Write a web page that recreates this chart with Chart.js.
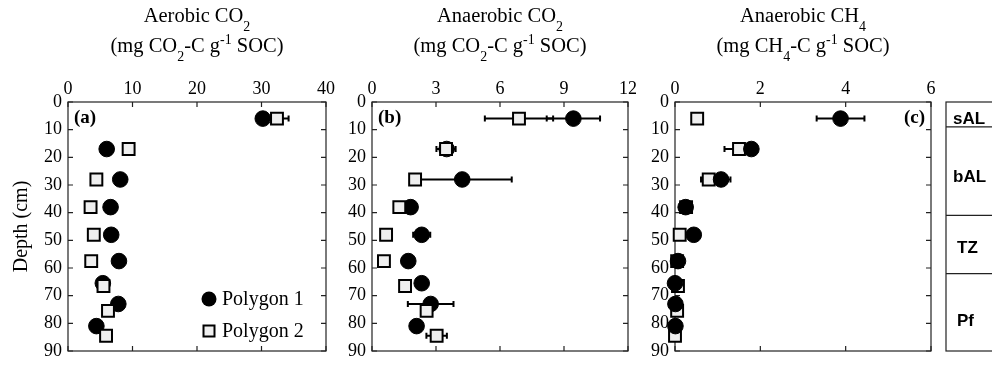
<!DOCTYPE html>
<html><head><meta charset="utf-8">
<script src="https://cdn.jsdelivr.net/npm/chart.js@4"></script>
<style>
html,body{margin:0;padding:0;background:#fff;}
#wrap{position:relative;width:992px;height:373px;overflow:hidden;background:#fff;}
canvas{position:absolute;left:0;top:0;}
</style></head><body>
<div id="wrap">
<canvas id="ca" width="992" height="373"></canvas>
<canvas id="cb" width="992" height="373"></canvas>
<canvas id="cc" width="992" height="373"></canvas>
</div>
<script>
// ---- data ----
const depthP1 = [6, 17, 28, 38, 48, 57.5, 65.5, 73, 81];
const depthP2 = [6, 17, 28, 38, 48, 57.5, 66.5, 75.5, 84.5];

const aerobicP1    = [30.2, 6.0, 8.1, 6.6, 6.7, 7.9, 5.4, 7.8, 4.4];
const aerobicP1Err = [0, 0, 0, 0, 0, 0, 0, 0, 0];
const aerobicP2    = [32.4, 9.4, 4.4, 3.5, 4.0, 3.6, 5.5, 6.2, 5.9];
const aerobicP2Err = [1.8, 0, 0, 0, 0, 0, 0, 0, 0];

const anCO2P1    = [9.44, 3.5, 4.23, 1.81, 2.33, 1.70, 2.33, 2.75, 2.09];
const anCO2P1Err = [1.25, 0.2, 2.32, 0.2, 0.4, 0, 0, 1.07, 0];
const anCO2P2    = [6.89, 3.47, 2.02, 1.28, 0.66, 0.56, 1.55, 2.56, 3.03];
const anCO2P2Err = [1.6, 0.45, 0, 0, 0, 0, 0, 0, 0.48];

const anCH4P1    = [3.88, 1.79, 1.08, 0.25, 0.44, 0.07, 0.0, 0.01, 0.01];
const anCH4P1Err = [0.56, 0, 0.22, 0, 0, 0, 0, 0, 0];
const anCH4P2    = [0.52, 1.50, 0.79, 0.26, 0.11, 0.05, 0.07, 0.05, 0.0];
const anCH4P2Err = [0, 0.34, 0.18, 0, 0, 0, 0, 0, 0];

const ticksA = [0, 10, 20, 30, 40];
const ticksB = [0, 3, 6, 9, 12];
const ticksC = [0, 2, 4, 6];
const depthTicks = [0, 10, 20, 30, 40, 50, 60, 70, 80, 90];

const seriesNames = ['Polygon 1', 'Polygon 2'];
const zoneNames  = ['sAL', 'bAL', 'TZ', 'Pf'];
const zoneBounds = [0, 9, 41, 62, 90];
const zoneLabelDepth = [6, 27, 52.5, 79];

// ---- helpers ----
const SERIF = '"Liberation Serif", "Times New Roman", serif';
const SANS = '"Liberation Sans", Arial, sans-serif';
function pts(xs, ds) { return xs.map((x, i) => ({x: x, y: ds[i]})); }

function drawRich(ctx, segs, cx, y, size) {
  let total = 0;
  segs.forEach(s => {
    const sz = (s.sub || s.sup) ? size * 0.68 : size;
    ctx.font = sz + 'px ' + SERIF;
    s.w = ctx.measureText(s.t).width; total += s.w;
  });
  let x = cx - total / 2;
  ctx.textAlign = 'left'; ctx.textBaseline = 'alphabetic'; ctx.fillStyle = '#000';
  segs.forEach(s => {
    const sz = (s.sub || s.sup) ? size * 0.68 : size;
    ctx.font = sz + 'px ' + SERIF;
    const dy = s.sub ? size * 0.45 : (s.sup ? -size * 0.38 : 0);
    ctx.fillText(s.t, x, y + dy); x += s.w;
  });
}

const panelPlugin = {
  id: 'panel',
  beforeDatasetsDraw(chart, args, opts) {
    const {ctx, chartArea: a, scales: {x, y}} = chart;
    ctx.save();
    ctx.strokeStyle = '#222'; ctx.lineWidth = 1.2;
    ctx.strokeRect(a.left, a.top, a.right - a.left, a.bottom - a.top);
    const tl = 5;
    ctx.beginPath();
    x.ticks.forEach(t => {
      const px = x.getPixelForValue(t.value);
      ctx.moveTo(px, a.top); ctx.lineTo(px, a.top + tl);
      ctx.moveTo(px, a.bottom); ctx.lineTo(px, a.bottom - tl);
    });
    y.ticks.forEach(t => {
      const py = y.getPixelForValue(t.value);
      ctx.moveTo(a.left, py); ctx.lineTo(a.left + tl, py);
      ctx.moveTo(a.right, py); ctx.lineTo(a.right - tl, py);
    });
    ctx.stroke();
    ctx.strokeStyle = '#000'; ctx.lineWidth = 2;
    chart.data.datasets.forEach(ds => {
      (ds.errX || []).forEach((e, i) => {
        if (!e) return;
        const p = ds.data[i];
        const x0 = x.getPixelForValue(p.x - e), x1 = x.getPixelForValue(p.x + e);
        const py = y.getPixelForValue(p.y);
        ctx.beginPath();
        ctx.moveTo(x0, py); ctx.lineTo(x1, py);
        ctx.moveTo(x0, py - 3); ctx.lineTo(x0, py + 3);
        ctx.moveTo(x1, py - 3); ctx.lineTo(x1, py + 3);
        ctx.stroke();
      });
    });
    ctx.restore();
  },
  afterDraw(chart, args, opts) {
    const {ctx, chartArea: a, scales: {y}} = chart;
    ctx.save();
    const cx = (a.left + a.right) / 2;
    drawRich(ctx, opts.line1, cx, a.top - 80, 20.5);
    drawRich(ctx, opts.line2, cx, a.top - 50, 20.5);
    ctx.font = 'bold 19px ' + SERIF; ctx.fillStyle = '#000'; ctx.textBaseline = 'middle';
    if (opts.letterRight) { ctx.textAlign = 'right'; ctx.fillText(opts.letter, a.right - 6, a.top + 16); }
    else { ctx.textAlign = 'left'; ctx.fillText(opts.letter, a.left + 6, a.top + 16); }
    if (opts.yTitle) {
      ctx.save();
      ctx.translate(a.left - 46, (a.top + a.bottom) / 2);
      ctx.rotate(-Math.PI / 2);
      ctx.textAlign = 'center'; ctx.textBaseline = 'middle';
      ctx.font = '20px ' + SERIF;
      ctx.fillText(opts.yTitle, 0, 0);
      ctx.restore();
    }
    if (opts.legend) {
      const ds = chart.data.datasets;
      const lx = a.right - 117;
      const rows = [a.bottom - 52, a.bottom - 20];
      ds.forEach((d, i) => {
        const ly = rows[i];
        ctx.lineWidth = 2; ctx.strokeStyle = '#000';
        if (d.pointStyle === 'circle') {
          ctx.beginPath(); ctx.arc(lx, ly, 7.5, 0, Math.PI * 2);
          ctx.fillStyle = '#000'; ctx.fill();
        } else {
          ctx.fillStyle = d.backgroundColor;
          ctx.fillRect(lx - 5.5, ly - 5.5, 11, 11);
          ctx.strokeRect(lx - 5.5, ly - 5.5, 11, 11);
        }
        ctx.fillStyle = '#000'; ctx.font = '20px ' + SERIF;
        ctx.textAlign = 'left'; ctx.textBaseline = 'middle';
        ctx.fillText(d.label, lx + 13, ly + 1);
      });
    }
    if (opts.zones) {
      const bx = a.right + 15, bw = 100;
      const top = y.getPixelForValue(zoneBounds[0]);
      const bot = y.getPixelForValue(zoneBounds[zoneBounds.length - 1]);
      ctx.strokeStyle = '#222'; ctx.lineWidth = 1.2;
      ctx.strokeRect(bx, top, bw, bot - top);
      ctx.beginPath();
      for (let i = 1; i < zoneBounds.length - 1; i++) {
        const py = y.getPixelForValue(zoneBounds[i]);
        ctx.moveTo(bx, py); ctx.lineTo(bx + bw, py);
      }
      ctx.stroke();
      ctx.font = 'bold 17px ' + SANS; ctx.fillStyle = '#000';
      ctx.textAlign = 'left'; ctx.textBaseline = 'middle';
      zoneNames.forEach((n, i) => {
        const off = n.length > 2 ? 7 : 11;
        ctx.fillText(n, bx + off, y.getPixelForValue(zoneLabelDepth[i]) + 1);
      });
    }
    ctx.restore();
  }
};

const Y_AXIS_W = 60, X_AXIS_H = 30;
function makeChart(id, area, xt, s1, e1, s2, e2, p1Top, popts) {
  const tickFont = {family: SERIF, size: 18};
  return new Chart(document.getElementById(id), {
    type: 'scatter',
    data: {
      datasets: [
        {label: seriesNames[0], data: pts(s1, depthP1), errX: e1, pointStyle: 'circle',
         pointRadius: 7.8, pointHoverRadius: 7.8, backgroundColor: '#000', borderColor: '#000',
         borderWidth: 1, clip: false, order: p1Top ? 0 : 1},
        {label: seriesNames[1], data: pts(s2, depthP2), errX: e2, pointStyle: 'rect',
         pointRadius: 8.4, pointHoverRadius: 8.4, backgroundColor: '#efefef', borderColor: '#000',
         borderWidth: 2, clip: false, order: p1Top ? 1 : 0}
      ]
    },
    options: {
      responsive: false, animation: false, devicePixelRatio: 1,
      layout: {padding: {left: area.left - Y_AXIS_W, right: 992 - area.right,
                         top: area.top - X_AXIS_H, bottom: 373 - area.bottom}},
      plugins: {legend: {display: false}, tooltip: {enabled: false}, panel: popts},
      scales: {
        x: {type: 'linear', position: 'top', min: xt[0], max: xt[xt.length - 1],
            afterBuildTicks(s) { s.ticks = xt.map(v => ({value: v})); },
            ticks: {font: tickFont, color: '#000', padding: 2, maxRotation: 0, autoSkip: false},
            grid: {display: false, drawTicks: false}, border: {display: false},
            afterFit(s) { s.height = X_AXIS_H; }},
        y: {type: 'linear', position: 'left', reverse: true,
            min: depthTicks[0], max: depthTicks[depthTicks.length - 1],
            afterBuildTicks(s) { s.ticks = depthTicks.map(v => ({value: v})); },
            ticks: {font: tickFont, color: '#000', padding: 6, autoSkip: false},
            grid: {display: false, drawTicks: false}, border: {display: false},
            afterFit(s) { s.width = Y_AXIS_W; }}
      }
    },
    plugins: [panelPlugin]
  });
}

makeChart('ca', {left: 68, right: 326, top: 102, bottom: 351}, ticksA,
  aerobicP1, aerobicP1Err, aerobicP2, aerobicP2Err, false,
  {line1: [{t: 'Aerobic CO'}, {t: '2', sub: true}],
   line2: [{t: '(mg CO'}, {t: '2', sub: true}, {t: '-C g'}, {t: '-1', sup: true}, {t: ' SOC)'}],
   letter: '(a)', yTitle: 'Depth (cm)', legend: true});
makeChart('cb', {left: 372, right: 628, top: 102, bottom: 351}, ticksB,
  anCO2P1, anCO2P1Err, anCO2P2, anCO2P2Err, false,
  {line1: [{t: 'Anaerobic CO'}, {t: '2', sub: true}],
   line2: [{t: '(mg CO'}, {t: '2', sub: true}, {t: '-C g'}, {t: '-1', sup: true}, {t: ' SOC)'}],
   letter: '(b)'});
makeChart('cc', {left: 675, right: 931, top: 102, bottom: 351}, ticksC,
  anCH4P1, anCH4P1Err, anCH4P2, anCH4P2Err, true,
  {line1: [{t: 'Anaerobic CH'}, {t: '4', sub: true}],
   line2: [{t: '(mg CH'}, {t: '4', sub: true}, {t: '-C g'}, {t: '-1', sup: true}, {t: ' SOC)'}],
   letter: '(c)', letterRight: true, zones: true});
</script>
</body></html>
